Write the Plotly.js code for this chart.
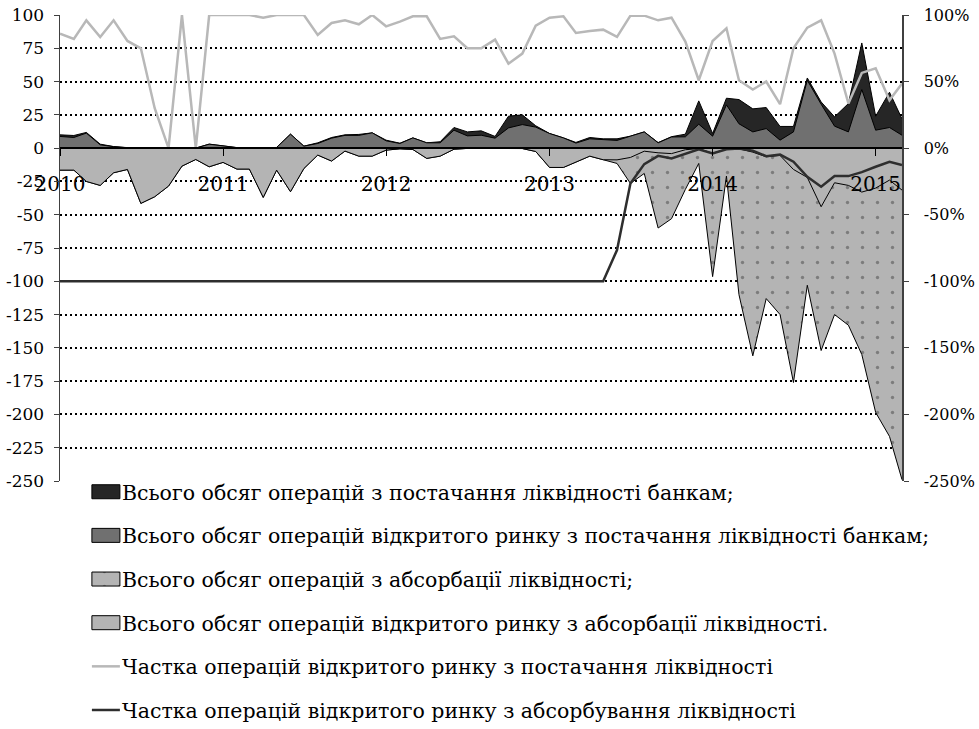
<!DOCTYPE html>
<html><head><meta charset="utf-8">
<script src="https://cdn.plot.ly/plotly-3.0.1.min.js"></script>
<style>html,body{margin:0;padding:0;background:#fff}#chart{width:979px;height:729px}</style>
</head><body><div id="chart"></div>
<script>
const months = [
 '2010-01-01','2010-02-01','2010-03-01','2010-04-01','2010-05-01','2010-06-01','2010-07-01','2010-08-01','2010-09-01','2010-10-01','2010-11-01','2010-12-01',
 '2011-01-01','2011-02-01','2011-03-01','2011-04-01','2011-05-01','2011-06-01','2011-07-01','2011-08-01','2011-09-01','2011-10-01','2011-11-01','2011-12-01',
 '2012-01-01','2012-02-01','2012-03-01','2012-04-01','2012-05-01','2012-06-01','2012-07-01','2012-08-01','2012-09-01','2012-10-01','2012-11-01','2012-12-01',
 '2013-01-01','2013-02-01','2013-03-01','2013-04-01','2013-05-01','2013-06-01','2013-07-01','2013-08-01','2013-09-01','2013-10-01','2013-11-01','2013-12-01',
 '2014-01-01','2014-02-01','2014-03-01','2014-04-01','2014-05-01','2014-06-01','2014-07-01','2014-08-01','2014-09-01','2014-10-01','2014-11-01','2014-12-01',
 '2015-01-01','2015-02-01','2015-03-01'];

const totalSupply = [10, 9.5, 11.8, 3, 1.2, 0.4, 0.2, 0.1, 0.1, 0.1,
 0.1, 3, 1.5, 0.4, 0.2, 0.6, 0.5, 10.5, 1.5, 4,
 8, 10, 10.3, 11.5, 6, 3.7, 7.7, 4, 4.8, 15.5,
 12.2, 13, 8.8, 24, 25, 16.8, 11, 7.7, 4.3, 8,
 7, 7, 9, 12.2, 4.2, 8.6, 10.5, 35.5, 11, 37.5,
 36.5, 29.5, 30.5, 16.3, 16.3, 52.7, 34.7, 23.5, 33.5, 79,
 24, 42, 22];

const openMarketSupply = [8.8, 8, 11.3, 2.5, 1.1, 0.3, 0.15, 0.03, 0, 0.1,
 0, 3, 1.5, 0.4, 0.2, 0.6, 0.5, 10.5, 1.5, 3.5,
 7.5, 9.6, 9.6, 11.5, 5.5, 3.5, 7.7, 4, 4, 13.5,
 9.2, 9.7, 7.5, 15.2, 17.7, 15.8, 11, 7.7, 3.8, 7,
 6.2, 5.8, 9, 12.2, 4, 8.4, 8.5, 18, 9, 32.5,
 18.3, 12.2, 14.7, 6, 12.2, 51, 33, 16.5, 12.2, 44,
 13.5, 15.5, 9.7];

const totalAbsorption = [-16.5, -16.5, -25, -28, -18.5, -16, -41.5, -36.5, -28.5, -13.5,
 -8.5, -14, -10.7, -15.7, -15.7, -37, -16.5, -32.7, -15.3, -5.2,
 -9.7, -2.2, -6, -6, -1.5, -0.5, -1, -7.7, -6, -0.8,
 -0.2, -0.2, -0.2, -0.2, -0.3, -2.5, -14.5, -14.5, -10.2, -6,
 -8.7, -11.5, -26.5, -19, -60, -53, -31, -11.5, -96.5, -21,
 -110, -156, -113, -125, -176, -103, -152, -125, -133, -155,
 -198.5, -216.5, -249];

const openMarketAbsorption = [-16.5, -16.5, -25, -28, -18.5, -16, -41.5, -36.5, -28.5, -13.5,
 -8.5, -14, -10.7, -15.7, -15.7, -37, -16.5, -32.7, -15.3, -5.2,
 -9.7, -2.2, -6, -6, -1.5, -0.5, -1, -7.7, -6, -0.8,
 -0.2, -0.2, -0.2, -0.2, -0.3, -2.5, -14.5, -14.5, -10.2, -6,
 -8.7, -8.8, -7, -2.3, -3.5, -4.1, -1.2, -0.3, -3.9, -0.5,
 -0.5, -3, -6.5, -5.5, -16, -22, -44, -26, -28, -33,
 -30, -24, -31.5];

const shareSupply = [86, 82, 96, 83.5, 96, 80.5, 75, 30, 0, 100,
 0, 100, 100, 100, 100, 98, 100, 100, 100, 85,
 94, 96, 93, 100, 91.5, 95, 99, 99, 82, 84,
 75, 75, 81.5, 63.5, 71, 92, 98, 99, 86.5, 88,
 89, 83.5, 99.5, 99.5, 96, 98, 80, 51, 80.5, 90,
 51, 44, 50, 33, 75, 90.5, 96, 71, 33.5, 56.5,
 60, 36, 48.5];

const shareAbsorption = [-100, -100, -100, -100, -100, -100, -100, -100, -100, -100,
 -100, -100, -100, -100, -100, -100, -100, -100, -100, -100,
 -100, -100, -100, -100, -100, -100, -100, -100, -100, -100,
 -100, -100, -100, -100, -100, -100, -100, -100, -100, -100,
 -100, -76.5, -26.5, -12, -5.8, -7.8, -4, -0.8, -4, -0.8,
 -0.3, -2, -6, -4.8, -10.2, -21.5, -29, -21, -21, -18,
 -14, -10.2, -12.7];

const seriesNames = [
 'Всього обсяг операцій з постачання ліквідності банкам;',
 'Всього обсяг операцій відкритого ринку з постачання ліквідності банкам;',
 'Всього обсяг операцій з абсорбації ліквідності;',
 'Всього обсяг операцій відкритого ринку з абсорбації ліквідності.',
 'Частка операцій відкритого ринку з постачання ліквідності',
 'Частка операцій відкритого ринку з абсорбування ліквідності'];

const leftTickVals = [-250,-225,-200,-175,-150,-125,-100,-75,-50,-25,0,25,50,75,100];
const leftTickText = ['-250','-225','-200','-175','-150','-125','-100','-75','-50','-25','0','25','50','75','100'];
const rightTickVals = [-250,-200,-150,-100,-50,0,50,100];
const rightTickText = ['-250%','-200%','-150%','-100%','-50%','0%','50%','100%'];
const yearTickVals = ['2010-01-01','2011-01-01','2012-01-01','2013-01-01','2014-01-01','2015-01-01'];
const yearTickText = ['2010','2011','2012','2013','2014','2015'];

const outline = {color:'#000', width:1};
const traces = [
 {x:months, y:totalSupply, name:seriesNames[0], type:'scatter', mode:'lines', fill:'tozeroy', fillcolor:'#262626', line:outline, legendgroup:'g1'},
 {x:months, y:openMarketSupply, name:seriesNames[1], type:'scatter', mode:'lines', fill:'tozeroy', fillcolor:'#707070', line:outline, legendgroup:'g2'},
 {x:months, y:totalAbsorption, name:seriesNames[2], type:'scatter', mode:'lines', fill:'tozeroy', fillcolor:'#b4b4b4',
  fillpattern:{shape:'.', bgcolor:'#b4b4b4', fgcolor:'#7c7c7c', size:15, solidity:0.04, fillmode:'replace'}, line:outline, legendgroup:'g3'},
 {x:months, y:openMarketAbsorption, name:seriesNames[3], type:'scatter', mode:'lines', fill:'tozeroy', fillcolor:'#b4b4b4', line:outline, legendgroup:'g4'},
 {x:months, y:shareSupply, name:seriesNames[4], type:'scatter', mode:'lines', yaxis:'y2', line:{color:'#b8b8b8', width:2.5}, legendgroup:'g5'},
 {x:months, y:shareAbsorption, name:seriesNames[5], type:'scatter', mode:'lines', yaxis:'y2', line:{color:'#2e2e2e', width:2.5}, legendgroup:'g6'}
];

const layout = {
 width:979, height:729,
 margin:{l:60, r:77, t:15, b:248, pad:0, autoexpand:false},
 paper_bgcolor:'#fff', plot_bgcolor:'#fff',
 font:{family:'DejaVu Serif, serif', size:17, color:'#000'},
 showlegend:true,
 legend:{x:0.026, xanchor:'left', y:0.0195, yanchor:'top', orientation:'v', tracegroupgap:14,
   font:{family:'DejaVu Serif, serif', size:20.5, color:'#000'}, bgcolor:'rgba(0,0,0,0)', borderwidth:0},
 xaxis:{type:'date', range:['2010-01-01','2015-03-01'], anchor:'free', position:250/350,
   showline:true, linecolor:'#000', linewidth:2, ticks:'outside', ticklen:7, tickwidth:1, tickcolor:'#000',
   tickmode:'array', tickvals:yearTickVals, ticktext:yearTickText, showgrid:false, zeroline:false,
   ticklabelstandoff:11, tickfont:{family:'DejaVu Serif, serif', size:20}},
 yaxis:{range:[-250,100], tickmode:'array', tickvals:leftTickVals, ticktext:leftTickText,
   showline:true, linecolor:'#404040', linewidth:1.5, ticks:'outside', ticklen:5, tickcolor:'#404040',
   showgrid:true, gridcolor:'#000', gridwidth:2, griddash:'2px,3px', zeroline:false, ticklabelstandoff:6,
   tickfont:{family:'DejaVu Serif, serif', size:17}},
 yaxis2:{overlaying:'y', side:'right', range:[-250,100], tickmode:'array', tickvals:rightTickVals, ticktext:rightTickText,
   showline:true, linecolor:'#404040', linewidth:1.5, ticks:'outside', ticklen:5, tickcolor:'#404040',
   showgrid:false, zeroline:false, ticklabelstandoff:12, tickfont:{family:'DejaVu Serif, serif', size:16}}
};

Plotly.newPlot('chart', traces, layout, {staticPlot:true, displayModeBar:false}).then(function(gd){
 gd.querySelectorAll('.legend .traces').forEach(function(g){
   var fill = g.querySelector('.legendfill path');
   var line = g.querySelector('.legendlines path');
   if (fill) {
     fill.setAttribute('d','M10,-7h28v14h-28z');
     fill.style.stroke = '#000'; fill.style.strokeWidth = '1px';
     if (line) line.style.display = 'none';
   } else if (line) {
     line.setAttribute('d','M10,0h28');
   }
 });
});
</script>
</body></html>
